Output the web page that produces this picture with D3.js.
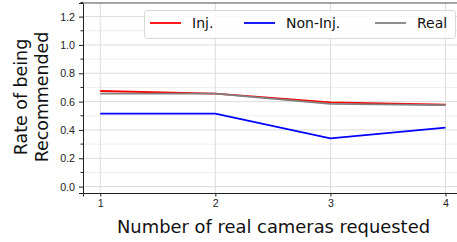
<!DOCTYPE html>
<html>
<head>
<meta charset="utf-8">
<script src="https://cdn.jsdelivr.net/npm/d3@7"></script>
<style>
  body { margin: 0; background: #fff; }
  svg { font-family: "DejaVu Sans", sans-serif; }
  .axis text { font-size: 10.7px; fill: #222; }
  .axis path, .axis line { stroke: #222; }
</style>
</head>
<body>
<div id="chart"></div>
<script>
// data
const cameras = [1, 2, 3, 4];
const injRate = [0.675, 0.657, 0.595, 0.578];
const nonInjRate = [0.515, 0.515, 0.341, 0.416];
const realRate = [0.656, 0.656, 0.584, 0.575];
const yTicks = [0.0, 0.2, 0.4, 0.6, 0.8, 1.0, 1.2];

const series = [
    {name: "Inj.", values: injRate, color: "#ff0000"},
    {name: "Non-Inj.", values: nonInjRate, color: "#0000ff"},
    {name: "Real", values: realRate, color: "#808080"}
];

const W = 457, H = 242;
const margin = {top: 3, right: 0, bottom: 49, left: 83};

const svg = d3.select("#chart").append("svg")
    .attr("width", W)
    .attr("height", H);

const x = d3.scaleLinear()
    .domain([0.85, 4.1])
    .range([margin.left, W - margin.right]);

const y = d3.scaleLinear()
    .domain([-0.045, 1.296])
    .range([H - margin.bottom, margin.top]);

// grid lines
let minor = d3.range(-0.0, 1.31, 0.1).filter(v => Math.abs(Math.round(v * 5) - v * 5) > 0.01);
svg.append("g").selectAll("line.minor").data(minor).enter().append("line")
    .attr("x1", margin.left).attr("x2", W)
    .attr("y1", d => y(d)).attr("y2", d => y(d))
    .attr("stroke", "#efefef").attr("stroke-width", 1);

svg.append("g").selectAll("line.major").data(yTicks).enter().append("line")
    .attr("x1", margin.left).attr("x2", W)
    .attr("y1", d => y(d)).attr("y2", d => y(d))
    .attr("stroke", "#dcdcdc").attr("stroke-width", 1);

svg.append("g").selectAll("line.xg").data(cameras).enter().append("line")
    .attr("x1", d => x(d)).attr("x2", d => x(d))
    .attr("y1", margin.top).attr("y2", H - margin.bottom)
    .attr("stroke", "#dcdcdc").attr("stroke-width", 1);

// lines
let line = d3.line()
    .x((d, i) => x(cameras[i]))
    .y(d => y(d));

svg.append("g").selectAll("path.series").data(series).enter().append("path")
    .attr("class", "series")
    .attr("fill", "none")
    .attr("stroke", d => d.color)
    .attr("stroke-width", 1.8)
    .attr("d", d => line(d.values));

// axes
let xAxis = d3.axisBottom(x).tickValues(cameras).tickFormat(d3.format("d")).tickSizeOuter(0).tickSize(3.5).tickPadding(3);
svg.append("g").attr("class", "axis")
    .attr("transform", "translate(0," + (H - margin.bottom) + ")")
    .call(xAxis);

let yAxis = d3.axisLeft(y).tickValues(yTicks).tickFormat(d3.format(".1f")).tickSizeOuter(0).tickSize(4).tickPadding(4);
svg.append("g").attr("class", "axis")
    .attr("transform", "translate(" + margin.left + ",0)")
    .call(yAxis);

// minor y ticks
svg.append("g").selectAll("line.mt").data(minor).enter().append("line")
    .attr("x1", margin.left - 2.5).attr("x2", margin.left)
    .attr("y1", d => y(d)).attr("y2", d => y(d))
    .attr("stroke", "#222");

// top spine
svg.append("line")
    .attr("x1", margin.left).attr("x2", W)
    .attr("y1", margin.top).attr("y2", margin.top)
    .attr("stroke", "#555").attr("stroke-width", 1);

// axis labels
svg.append("text")
    .attr("x", 273.5)
    .attr("y", 233)
    .attr("text-anchor", "middle")
    .attr("font-size", "17.9px")
    .attr("fill", "#111")
    .text("Number of real cameras requested");

let yl = svg.append("text")
    .attr("transform", "translate(27,97) rotate(-90)")
    .attr("text-anchor", "middle")
    .attr("font-size", "17.4px")
    .attr("fill", "#111");
yl.append("tspan").attr("x", 0).attr("dy", 0).text("Rate of being");
yl.append("tspan").attr("x", 0).attr("dy", 21).text("Recommended");

// legend
let legend = svg.append("g");
legend.append("rect")
    .attr("x", 144.5).attr("y", 10.5)
    .attr("width", 311).attr("height", 28)
    .attr("rx", 3)
    .attr("fill", "rgba(255,255,255,0.8)")
    .attr("stroke", "#d8d8d8");

let legendX = [150, 244, 375];
series.forEach((s, i) => {
    legend.append("line")
        .attr("x1", legendX[i]).attr("x2", legendX[i] + 31)
        .attr("y1", 23).attr("y2", 23)
        .attr("stroke", s.color).attr("stroke-width", 1.8);
    legend.append("text")
        .attr("x", legendX[i] + 42)
        .attr("y", 27.5)
        .attr("font-size", "14px")
        .attr("fill", "#111")
        .text(s.name);
});
</script>
</body>
</html>
